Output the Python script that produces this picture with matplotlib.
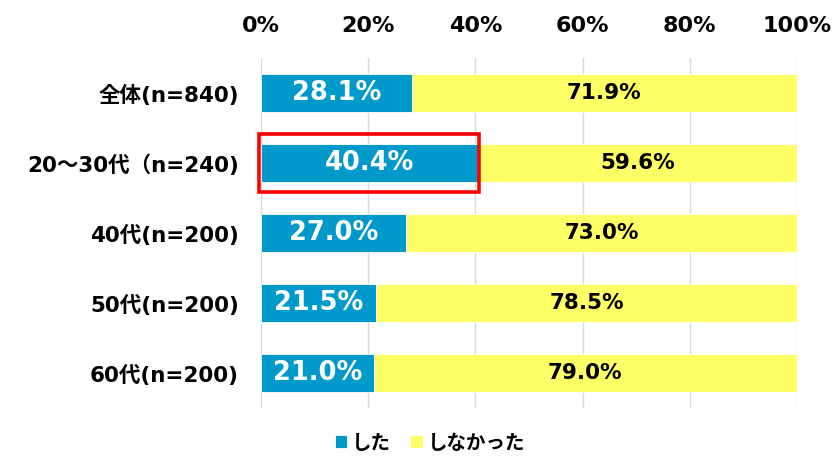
import matplotlib
matplotlib.use("Agg")
import matplotlib.pyplot as plt
from matplotlib.patches import Rectangle

plt.rcParams['font.family'] = ['DejaVu Sans', 'Noto Sans CJK JP']

categories = ["全体(n=840)", "20～30代（n=240)", "40代(n=200)", "50代(n=200)", "60代(n=200)"]
did = [28.1, 40.4, 27.0, 21.5, 21.0]
did_not = [71.9, 59.6, 73.0, 78.5, 79.0]
series_names = ["した", "しなかった"]
xticks = [0, 20, 40, 60, 80, 100]
highlight_index = 1

blue = "#0099CC"
yellow = "#FFFF66"

fig = plt.figure(figsize=(8.35, 4.57), dpi=100)
ax = fig.add_axes([0.3126, 0.107, 0.6419, 0.766])

ypos = list(range(len(categories)))
h = 0.54
b1 = ax.barh(ypos, did, height=h, color=blue, edgecolor="white", linewidth=0.6, label=series_names[0], zorder=3)
b2 = ax.barh(ypos, did_not, left=did, height=h, color=yellow, edgecolor="white", linewidth=0.6, label=series_names[1], zorder=3)

for y, a, b in zip(ypos, did, did_not):
    ax.text(a / 2, y, f"{a:.1f}%", ha="center", va="center", color="white",
            fontsize=18.5, fontweight="bold", zorder=5)
    ax.text(a + b / 2, y, f"{b:.1f}%", ha="center", va="center", color="black",
            fontsize=15.5, fontweight="bold", zorder=5)

# highlight box
hy = ypos[highlight_index]
ax.add_patch(Rectangle((-0.4, hy - 0.42), did[highlight_index] + 0.6, 0.84,
                       fill=False, edgecolor="#FF0000", linewidth=2.6, zorder=6, clip_on=False))

ax.set_xlim(0, 100)
ax.set_ylim(len(categories) - 0.5, -0.5)
ax.set_xticks(xticks)
ax.set_xticklabels([f"{t}%" for t in xticks], fontsize=16, fontweight="bold")
ax.xaxis.tick_top()
ax.tick_params(axis="x", length=0, pad=16)
ax.set_yticks(ypos)
ax.set_yticklabels(categories, fontsize=15.5, fontweight="bold")
ax.tick_params(axis="y", length=0, pad=16)
ax.grid(axis="x", color="#D9D9D9", linewidth=1, zorder=0)
for s in ax.spines.values():
    s.set_visible(False)

leg = fig.legend(handles=[b1, b2], labels=series_names, loc="center", bbox_to_anchor=(0.515, 0.03),
                 ncol=2, frameon=False, handlelength=0.65, handleheight=0.65,
                 handletextpad=0.25, columnspacing=1.0, prop={'weight': 'bold', 'size': 14})

fig.savefig("out.png", dpi=100)
